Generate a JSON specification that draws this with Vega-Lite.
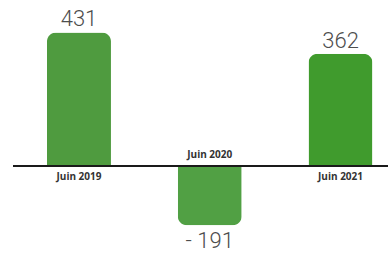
{
  "$schema": "https://vega.github.io/schema/vega-lite/v6.json",
  "width": 375,
  "height": 262,
  "autosize": {"type": "none"},
  "padding": {"left": 13, "right": 1, "top": 0, "bottom": 0},
  "background": "white",
  "config": {"view": {"stroke": null}},
  "data": {
    "values": [
      {"periode": "Juin 2019", "valeur": 431, "label": "431"},
      {"periode": "Juin 2020", "valeur": -191, "label": "- 191"},
      {"periode": "Juin 2021", "valeur": 362, "label": "362"}
    ]
  },
  "encoding": {
    "x": {
      "field": "periode",
      "type": "nominal",
      "axis": null,
      "scale": {"range": [0.6, 392.9], "paddingInner": 0, "paddingOuter": 0}
    },
    "color": {
      "field": "periode",
      "type": "nominal",
      "legend": null,
      "scale": {"domain": ["Juin 2019", "Juin 2020", "Juin 2021"], "range": ["#4f9b3f", "#51a044", "#409b2d"]}
    }
  },
  "layer": [
    {
      "transform": [{"filter": "datum.valeur >= 0"}],
      "mark": {"type": "bar", "width": 64, "cornerRadiusTopLeft": 9, "cornerRadiusTopRight": 9},
      "encoding": {
        "y": {
          "field": "valeur",
          "type": "quantitative",
          "axis": null,
          "scale": {"domain": [-309.7, 535.5], "nice": false}
        }
      }
    },
    {
      "transform": [{"filter": "datum.valeur < 0"}],
      "mark": {"type": "bar", "width": 64, "cornerRadiusBottomLeft": 9, "cornerRadiusBottomRight": 9},
      "encoding": {
        "y": {"field": "valeur", "type": "quantitative"}
      }
    },
    {
      "mark": {"type": "rule", "color": "#1a1a1a", "strokeWidth": 2},
      "encoding": {"y": {"datum": 0, "type": "quantitative"}, "x": null, "color": null}
    },
    {
      "transform": [{"filter": "datum.valeur >= 0"}],
      "mark": {"type": "text", "baseline": "alphabetic", "dy": -6, "fontSize": 22, "font": "Roboto", "fontWeight": 300, "color": "#4d4d4d"},
      "encoding": {
        "y": {"field": "valeur", "type": "quantitative"},
        "text": {"field": "label"},
        "color": null
      }
    },
    {
      "transform": [{"filter": "datum.valeur < 0"}],
      "mark": {"type": "text", "baseline": "top", "dy": 6, "fontSize": 22, "font": "Roboto", "fontWeight": 300, "color": "#4d4d4d"},
      "encoding": {
        "y": {"field": "valeur", "type": "quantitative"},
        "text": {"field": "label"},
        "color": null
      }
    },
    {
      "transform": [{"filter": "datum.valeur >= 0"}],
      "mark": {"type": "text", "baseline": "top", "dy": 6, "fontSize": 10, "font": "Open Sans", "fontWeight": "bold", "color": "#333333"},
      "encoding": {
        "y": {"datum": 0, "type": "quantitative"},
        "text": {"field": "periode"},
        "color": null
      }
    },
    {
      "transform": [{"filter": "datum.valeur < 0"}],
      "mark": {"type": "text", "baseline": "bottom", "dy": -6, "fontSize": 10, "font": "Open Sans", "fontWeight": "bold", "color": "#333333"},
      "encoding": {
        "y": {"datum": 0, "type": "quantitative"},
        "text": {"field": "periode"},
        "color": null
      }
    }
  ]
}
